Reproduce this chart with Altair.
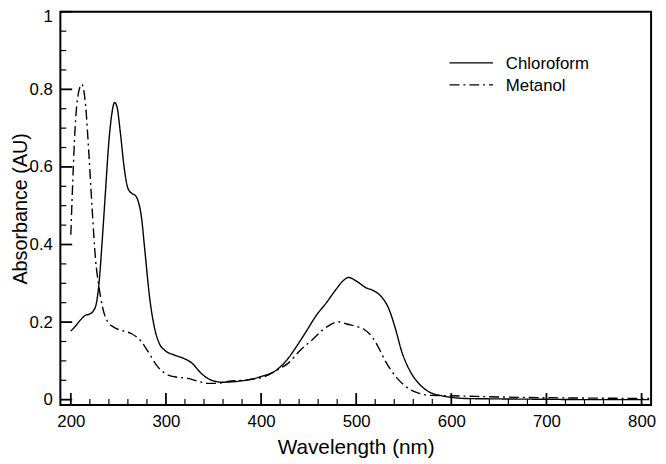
import altair as alt
import pandas as pd

# ---- data ----
series_names = ["Chloroform", "Metanol"]

chloro_wl = [200, 205, 210, 215, 220, 224, 227, 230, 233, 236, 240, 243, 246, 248.5, 252, 256,
             260, 264, 268, 271, 274, 278, 283, 288, 293, 299, 309, 319, 327, 337, 347, 359,
             378, 399, 416, 428, 438, 448, 458, 469, 479, 486, 492, 500, 510, 519, 527, 534,
             541, 548, 557, 565, 576, 590, 600, 615, 650, 700, 750, 808]
chloro_abs = [0.177, 0.19, 0.205, 0.217, 0.221, 0.23, 0.25, 0.31, 0.41, 0.52, 0.665, 0.735, 0.766, 0.755, 0.69, 0.6,
              0.545, 0.532, 0.526, 0.51, 0.475, 0.38, 0.26, 0.185, 0.145, 0.127, 0.115, 0.106, 0.095, 0.068, 0.051, 0.045,
              0.048, 0.059, 0.076, 0.105, 0.14, 0.178, 0.217, 0.251, 0.285, 0.306, 0.315, 0.306, 0.289, 0.28, 0.264, 0.236,
              0.185, 0.123, 0.072, 0.044, 0.021, 0.010, 0.006, 0.003, 0.002, 0.001, 0.0, 0.0]

metanol_wl = [200, 202, 204.5, 208, 211.5, 215.5, 219, 222.5, 226, 229.5, 233, 238, 245, 254, 264, 273,
              281.5, 290, 299, 309, 323, 333, 344, 354, 365, 385, 403, 420, 428, 441, 455, 465.5,
              474, 481, 490, 500, 508.5, 517, 524, 531, 541.5, 552, 565.5, 579, 600, 650, 700, 750, 808]
metanol_abs = [0.425, 0.56, 0.70, 0.79, 0.813, 0.76, 0.633, 0.489, 0.361, 0.293, 0.242, 0.204, 0.187, 0.178, 0.17, 0.153,
               0.123, 0.089, 0.068, 0.059, 0.055, 0.048, 0.042, 0.042, 0.047, 0.051, 0.059, 0.081, 0.093, 0.127, 0.157, 0.181,
               0.195, 0.201, 0.195, 0.189, 0.181, 0.161, 0.132, 0.098, 0.06, 0.034, 0.017, 0.011, 0.010, 0.007, 0.005, 0.004, 0.003]

x_major = [200, 300, 400, 500, 600, 700, 800]
x_minor = [220, 240, 260, 280, 320, 340, 360, 380, 420, 440, 460, 480,
           520, 540, 560, 580, 620, 640, 660, 680, 720, 740, 760, 780]
y_major = [0, 0.2, 0.4, 0.6, 0.8, 1.0]
y_minor = [0.05, 0.1, 0.15, 0.25, 0.3, 0.35, 0.45, 0.5, 0.55, 0.65, 0.7, 0.75, 0.85, 0.9, 0.95]

dash_patterns = [[1, 0], [10, 4, 2, 4]]

# ---- layout ----
W, H = 598, 398
FONT = "Liberation Sans"

df = pd.DataFrame({
    "wl": chloro_wl + metanol_wl,
    "abs": chloro_abs + metanol_abs,
    "series": [series_names[0]] * len(chloro_wl) + [series_names[1]] * len(metanol_wl),
})

xs = alt.Scale(domain=[189, 810], nice=False, zero=False)
ys = alt.Scale(domain=[-0.0135, 1], nice=False, zero=False)

x_axis = alt.Axis(
    title="Wavelength (nm)", values=x_major, format="d", domain=False, ticks=False, grid=False,
    labelFontSize=17, labelPadding=9, labelColor="black", labelFont=FONT,
    titleFontSize=21, titleFontWeight="normal", titleColor="black", titleFont=FONT,
    titleX=W / 2, titleY=49, titleAlign="center", titleBaseline="alphabetic")
y_axis = alt.Axis(
    title="Absorbance (AU)", values=y_major, format="~g", domain=False, ticks=False, grid=False,
    labelFontSize=17, labelPadding=8, labelColor="black", labelFont=FONT,
    labelFlush=1, labelFlushOffset=3,
    titleFontSize=20, titleFontWeight="normal", titleColor="black", titleFont=FONT,
    titleX=-34, titleY=H / 2, titleAngle=270, titleAlign="center", titleBaseline="alphabetic")

lines = alt.Chart(df).mark_line(color="black", strokeWidth=1.4, interpolate="monotone").encode(
    x=alt.X("wl:Q", scale=xs, axis=x_axis),
    y=alt.Y("abs:Q", scale=ys, axis=y_axis),
    strokeDash=alt.StrokeDash("series:N", scale=alt.Scale(domain=series_names, range=dash_patterns), legend=None),
    detail="series:N",
)


def xticks(vals, length, width):
    return alt.Chart(pd.DataFrame({"wl": vals})).mark_rule(color="black", strokeWidth=width).encode(
        x=alt.X("wl:Q", scale=xs, axis=x_axis), y=alt.value(H), y2=alt.value(H - length))


def yticks(vals, length, width):
    return alt.Chart(pd.DataFrame({"abs": vals})).mark_rule(color="black", strokeWidth=width).encode(
        y=alt.Y("abs:Q", scale=ys, axis=y_axis), x=alt.value(0), x2=alt.value(length))


layers = [lines,
          xticks(x_major, 12, 1.8), xticks(x_minor, 6, 1.2),
          yticks(y_major, 12, 1.8), yticks(y_minor, 6, 1.2)]

legend_line_y = [51.7, 74]
legend_text_y = [58.3, 80.7]
for name, dash, ly, ty in zip(series_names, dash_patterns, legend_line_y, legend_text_y):
    d = pd.DataFrame({"label": [name]})
    layers.append(alt.Chart(d).mark_rule(color="black", strokeWidth=1.4).encode(
        x=alt.value(394), x2=alt.value(438), y=alt.value(ly), strokeDash=alt.value(dash)))
    layers.append(alt.Chart(d).mark_text(align="left", baseline="alphabetic", fontSize=17, font=FONT,
                                         color="black").encode(
        text="label:N", x=alt.value(451), y=alt.value(ty)))

chart = alt.layer(*layers).properties(
    width=W, height=H,
    background="white",
    autosize=alt.AutoSizeParams(type="none"),
    padding={"left": 53, "top": 1, "right": 7, "bottom": 56},
).configure_view(stroke="black", strokeWidth=2)

chart.save("out.html", embed_options={"renderer": "svg", "actions": False})
